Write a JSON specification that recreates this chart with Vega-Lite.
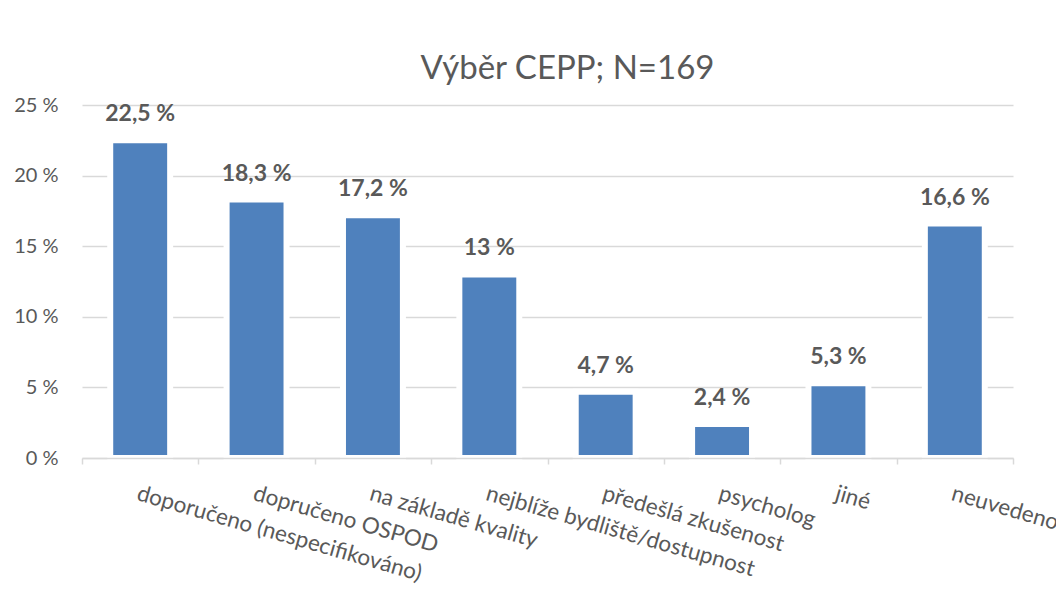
{
  "$schema": "https://vega.github.io/schema/vega-lite/v6.json",
  "autosize": "none",
  "width": 931,
  "height": 353,
  "padding": {"left": 82, "top": 105, "right": 43, "bottom": 154},
  "background": "white",
  "config": {"view": {"stroke": null}, "font": "Lato"},
  "title": {"text": "Výběr CEPP; N=169", "font": "Lato", "fontSize": 33, "fontWeight": "normal", "color": "#595959", "anchor": "middle", "dx": 20, "offset": 9},
  "data": {"values": [
    {"kat": "doporučeno (nespecifikováno)", "pct": 22.5, "label": "22,5 %"},
    {"kat": "dopručeno OSPOD", "pct": 18.3, "label": "18,3 %"},
    {"kat": "na základě kvality", "pct": 17.2, "label": "17,2 %"},
    {"kat": "nejblíže bydliště/dostupnost", "pct": 13.0, "label": "13 %"},
    {"kat": "předešlá zkušenost", "pct": 4.7, "label": "4,7 %"},
    {"kat": "psycholog", "pct": 2.4, "label": "2,4 %"},
    {"kat": "jiné", "pct": 5.3, "label": "5,3 %"},
    {"kat": "neuvedeno", "pct": 16.6, "label": "16,6 %"}
  ]},
  "encoding": {
    "x": {"field": "kat", "type": "nominal", "sort": null,
      "scale": {"paddingInner": 0, "paddingOuter": 0},
      "axis": {"title": null, "labelAngle": 16, "labelAlign": "left", "labelBaseline": "top", "labelPadding": 18,
        "labelFont": "Lato", "labelFontSize": 22.5, "labelColor": "#595959", "labelLimit": 400,
        "tickBand": "extent", "tickColor": "#d9d9d9", "tickSize": 6, "tickWidth": 1.5,
        "domainColor": "#d9d9d9", "domainWidth": 1.5, "zindex": 1}},
    "y": {"field": "pct", "type": "quantitative",
      "scale": {"domain": [0, 25], "nice": false},
      "axis": {"title": null, "values": [0, 5, 10, 15, 20, 25], "labelExpr": "datum.value + ' %'",
        "labelFont": "Lato", "labelFontSize": 20, "labelColor": "#595959", "labelPadding": 24,
        "ticks": false, "domain": false, "gridColor": "#d9d9d9", "gridWidth": 1.5}}
  },
  "layer": [
    {"mark": {"type": "bar", "color": "#4F81BD", "stroke": "white", "strokeWidth": 6, "width": {"band": 0.515}}},
    {"mark": {"type": "text", "baseline": "alphabetic", "dy": -19, "font": "Lato", "fontSize": 23, "fontWeight": "bold", "color": "#595959"},
      "encoding": {"text": {"field": "label"}}}
  ]
}
